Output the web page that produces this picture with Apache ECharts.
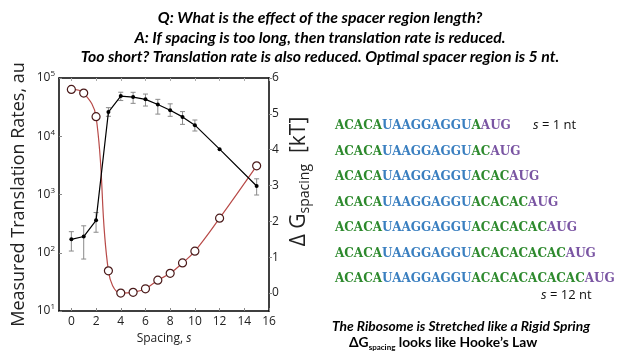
<!DOCTYPE html>
<html>
<head>
<meta charset="utf-8">
<script src="https://cdn.jsdelivr.net/npm/echarts@6/dist/echarts.min.js"></script>
<style>
  html, body { margin: 0; padding: 0; background: #fff; }
  #main { width: 640px; height: 360px; }
</style>
</head>
<body>
<div id="main"></div>
<script>
// spacing values (nt)
const spacing = [0, 1, 2, 3, 4, 5, 6, 7, 8, 9, 10, 12, 15];
// measured translation rates, au (left, log axis)
const rates = [170, 190, 360, 26000, 49000, 47000, 43000, 35000, 28000, 21500, 15500, 6000, 1400];
const rateLow = [107, 78, 225, 22000, 41000, 36700, 33000, 24000, 22000, 16000, 12300, 6000, 980];
const rateHigh = [230, 290, 490, 31000, 57000, 56800, 53000, 43000, 36000, 26500, 19000, 6000, 1860];
// delta G spacing, kT (right axis)
const deltaG = [5.68, 5.58, 4.92, 0.62, 0.0, 0.02, 0.12, 0.36, 0.55, 0.84, 1.17, 2.09, 3.55];

const xTicks = [0, 2, 4, 6, 8, 10, 12, 14, 16];
const gTicks = [0, 1, 2, 3, 4, 5, 6];

const titleLines = [
  'Q: What is the effect of the spacer region length?',
  'A: If spacing is too long, then translation rate is reduced.',
  'Too short? Translation rate is also reduced. Optimal spacer region is 5 nt.'
];

// sequence parts: leader, SD, spacer, start codon
const seqLeader = 'ACACA';
const seqSD = 'UAAGGAGGU';
const seqSpacers = ['A', 'AC', 'ACAC', 'ACACAC', 'ACACACAC', 'ACACACACAC', 'ACACACACACAC'];
const seqStart = 'AUG';

const chart = echarts.init(document.getElementById('main'));

const tickFont = { fontFamily: 'Open Sans', fontSize: 12, color: '#222' };

const graphics = [];
titleLines.forEach((t, i) => {
  graphics.push({
    type: 'text', x: 320, y: 18 + i * 19.5,
    style: { text: t, font: 'italic bold 15.8px Lato', fill: '#000', align: 'center', verticalAlign: 'middle' }
  });
});
seqSpacers.forEach((sp, i) => {
  graphics.push({
    type: 'text',
    left: 335,
    top: 120 + i * 25.5,
    style: {
      text: '{a|' + seqLeader + '}{b|' + seqSD + '}{a|' + sp + '}{c|' + seqStart + '}',
      rich: {
        a: { fill: '#2e8a2e', fontFamily: 'DejaVu Serif', fontWeight: 'bold', fontSize: 12 },
        b: { fill: '#3a7fc0', fontFamily: 'DejaVu Serif', fontWeight: 'bold', fontSize: 12 },
        c: { fill: '#7a55a3', fontFamily: 'DejaVu Serif', fontWeight: 'bold', fontSize: 12 }
      }
    }
  });
});
graphics.push({
  type: 'text', left: 533, top: 119,
  style: { text: '{i|s} = 1 nt', rich: { i: { fontStyle: 'italic', fontFamily: 'Open Sans', fontSize: 13 } }, font: '13px "Open Sans"', fill: '#111' }
});
graphics.push({
  type: 'text', left: 541, top: 289,
  style: { text: '{i|s} = 12 nt', rich: { i: { fontStyle: 'italic', fontFamily: 'Open Sans', fontSize: 13 } }, font: '13px "Open Sans"', fill: '#111' }
});
graphics.push({
  type: 'text', left: 332, top: 320,
  style: { text: 'The Ribosome is Stretched like a Rigid Spring', font: 'italic bold 13.8px Lato', fill: '#000' }
});
graphics.push({
  type: 'text', left: 349, top: 336,
  style: {
    text: '{g|\u0394G}{s|spacing}{g| looks like Hooke\u2019s Law}',
    rich: {
      g: { font: 'bold 13.8px Lato', fill: '#000' },
      s: { font: 'bold 8px Lato', fill: '#000', padding: [8, 0, 0, 0] }
    }
  }
});

const option = {
  animation: false,
  grid: { left: 59, top: 78, width: 210, height: 233 },
  xAxis: [{
    type: 'value', min: -1, max: 16,
    name: '{n|Spacing, }{i|s}', nameLocation: 'middle', nameGap: 21,
    nameTextStyle: { rich: { n: { fontFamily: 'Open Sans', fontSize: 12, color: '#222' }, i: { fontFamily: 'Open Sans', fontSize: 12, fontStyle: 'italic', color: '#222' } } },
    axisLine: { onZero: false, lineStyle: { color: '#000', width: 1.5 } },
    axisTick: { show: true, inside: true, length: 3, customValues: xTicks, lineStyle: { color: '#888' } },
    axisLabel: { ...tickFont, margin: 5, customValues: xTicks },
    splitLine: { show: false }
  }, {
    type: 'value', min: -1, max: 16, position: 'top',
    axisLine: { show: true, onZero: false, lineStyle: { color: '#000', width: 1.5 } },
    axisTick: { show: true, inside: true, length: 3, customValues: xTicks, lineStyle: { color: '#aaa' } },
    axisLabel: { show: false },
    splitLine: { show: false }
  }],
  yAxis: [{
    type: 'log', logBase: 10, min: 10, max: 100000,
    name: 'Measured Translation Rates, au', nameLocation: 'middle', nameGap: 31,
    nameTextStyle: { fontFamily: 'Open Sans', fontSize: 18, color: '#222' },
    axisLine: { show: true, onZero: false, lineStyle: { color: '#000', width: 1.5 } },
    axisTick: { show: true, inside: true, length: 3, lineStyle: { color: '#888' } },
    axisLabel: {
      margin: 4,
      formatter: v => '{b|10}{s|' + Math.round(Math.log10(v)) + '}',
      rich: {
        b: { fontFamily: 'Open Sans', fontSize: 12, color: '#222' },
        s: { fontFamily: 'Open Sans', fontSize: 8, color: '#222', padding: [0, 0, 8, 0] }
      }
    },
    splitLine: { show: false }
  }, {
    type: 'value', min: -0.5, max: 6, position: 'right',
    name: '{g|\u0394 G}{s|spacing}{g|  [kT]}', nameLocation: 'middle', nameGap: 17,
    nameRotate: 90,
    nameTextStyle: {
      padding: [0, 0, 0, 26],
      rich: {
        g: { fontFamily: 'Open Sans', fontSize: 21, color: '#222' },
        s: { fontFamily: 'Open Sans', fontSize: 14, color: '#222', padding: [12, 0, 0, 0] }
      }
    },
    axisLine: { show: true, onZero: false, lineStyle: { color: '#000', width: 1.5 } },
    axisTick: { show: true, inside: false, length: 3, customValues: gTicks, lineStyle: { color: '#888' } },
    axisLabel: { ...tickFont, margin: 3, customValues: gTicks },
    splitLine: { show: false }
  }],
  series: [{
    name: 'error',
    type: 'custom',
    xAxisIndex: 0, yAxisIndex: 0,
    data: spacing.map((s, i) => [s, rateLow[i], rateHigh[i]]),
    renderItem: (params, api) => {
      const lo = api.coord([api.value(0), api.value(1)]);
      const hi = api.coord([api.value(0), api.value(2)]);
      if (Math.abs(lo[1] - hi[1]) < 1) return null;
      const w = 2.5;
      const st = { stroke: '#8a8a8a', lineWidth: 1 };
      return {
        type: 'group',
        children: [
          { type: 'line', shape: { x1: lo[0], y1: lo[1], x2: hi[0], y2: hi[1] }, style: st },
          { type: 'line', shape: { x1: lo[0] - w, y1: lo[1], x2: lo[0] + w, y2: lo[1] }, style: st },
          { type: 'line', shape: { x1: hi[0] - w, y1: hi[1], x2: hi[0] + w, y2: hi[1] }, style: st }
        ]
      };
    },
    z: 1
  }, {
    name: 'Translation rate',
    type: 'line',
    xAxisIndex: 0, yAxisIndex: 0,
    data: spacing.map((s, i) => [s, rates[i]]),
    symbol: 'circle', symbolSize: 4,
    itemStyle: { color: '#000' },
    lineStyle: { color: '#000', width: 1.2 },
    z: 3
  }, {
    name: 'dG spacing',
    type: 'line',
    xAxisIndex: 0, yAxisIndex: 1,
    data: spacing.map((s, i) => [s, deltaG[i]]),
    smooth: 0.4,
    symbol: 'circle', symbolSize: 8,
    itemStyle: { color: '#fff', borderColor: '#4a1a1a', borderWidth: 1.2 },
    lineStyle: { color: '#b84a48', width: 1.2 },
    z: 2
  }],
  graphic: graphics
};

chart.setOption(option);
</script>
</body>
</html>
